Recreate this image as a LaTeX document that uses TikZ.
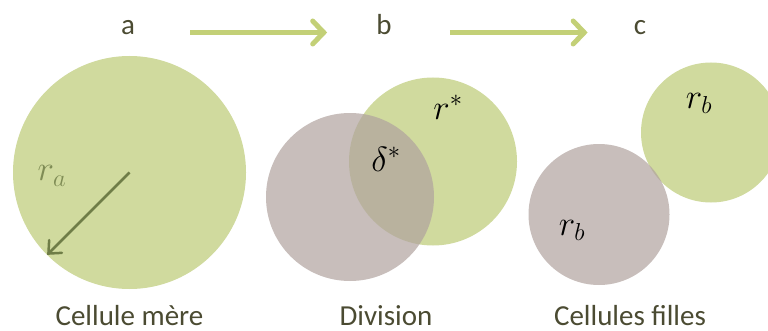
\RequirePackage{fix-cm}
\documentclass[tikz,border=0pt]{standalone}
\usepackage{fontspec}
\newfontfamily\carlito{Carlito}
\usetikzlibrary{arrows.meta}
\definecolor{cellgreen}{RGB}{208,218,158}
\definecolor{cellgray}{RGB}{176,162,158}
\definecolor{flowgreen}{RGB}{195,208,119}
\definecolor{radolive}{RGB}{111,125,71}
\definecolor{labolive}{RGB}{127,140,85}
\definecolor{txtdark}{RGB}{75,75,50}
\begin{document}
\begin{tikzpicture}[x=1pt, y=1pt,
    cellA/.style={circle, fill=cellgreen, inner sep=0pt, outer sep=0pt},
    cellB/.style={circle, fill=cellgray, fill opacity=0.7, inner sep=0pt, outer sep=0pt},
    flow/.style={flowgreen, line width=5pt, -{Straight Barb[length=11pt, width=23pt, line cap=round]}},
    stagelbl/.style={font=\carlito\fontsize{29}{30}\selectfont, text=txtdark, anchor=base, inner sep=0pt},
    maths/.style={font=\fontsize{35}{37}\selectfont, inner sep=0pt}]
    \useasboundingbox (0,0) rectangle (768,330);
    \clip (0,0) rectangle (768,330);
    % stages
    \node[stagelbl] (la) at (128,295) {a};
    \node[stagelbl] (lb) at (384,295) {b};
    \node[stagelbl] (lc) at (640,295) {c};
    \draw[flow] ([xshift=55pt, yshift=2.5pt]la.base east) -- ([xshift=-49pt, yshift=2.5pt]lb.base west);
    \draw[flow] ([xshift=58pt, yshift=2.5pt]lb.base east) -- ([xshift=-46pt, yshift=2.5pt]lc.base west);
    % a : cellule mere
    \node[cellA, minimum size=233pt] (mere) at (129.5,157.5) {};
    \draw[radolive, line width=2.5pt, -{Straight Barb[length=10pt, width=18pt, line cap=round]}] (mere.center) -- (mere.225);
    \node[maths, text=labolive] (ra) at (52,154) {$r_a$};
    % b : division
    \node[cellA, minimum size=168pt] (divA) at (433,168.5) {};
    \node[cellB, minimum size=168pt] (divB) at (350,133) {};
    \node[maths] (rstar) at (448,222.5) {$r^*$};
    \node[maths] (dstar) at (386,171) {$\delta^*$};
    % c : cellules filles
    \node[cellA, minimum size=140pt] (filleA) at (711,197.5) {};
    \node[cellB, minimum size=141pt] (filleB) at (599,115.5) {};
    \node[maths] (rbA) at (699,226.5) {$r_b$};
    \node[maths] (rbB) at (572,99.5) {$r_b$};
    % legendes
    \node[stagelbl] (tmere) at (129.5,5) {Cellule mère};
    \node[stagelbl] (tdiv) at (386,5) {Division};
    \node[stagelbl] (tfille) at (630,5) {Cellules filles};
\end{tikzpicture}
\end{document}
